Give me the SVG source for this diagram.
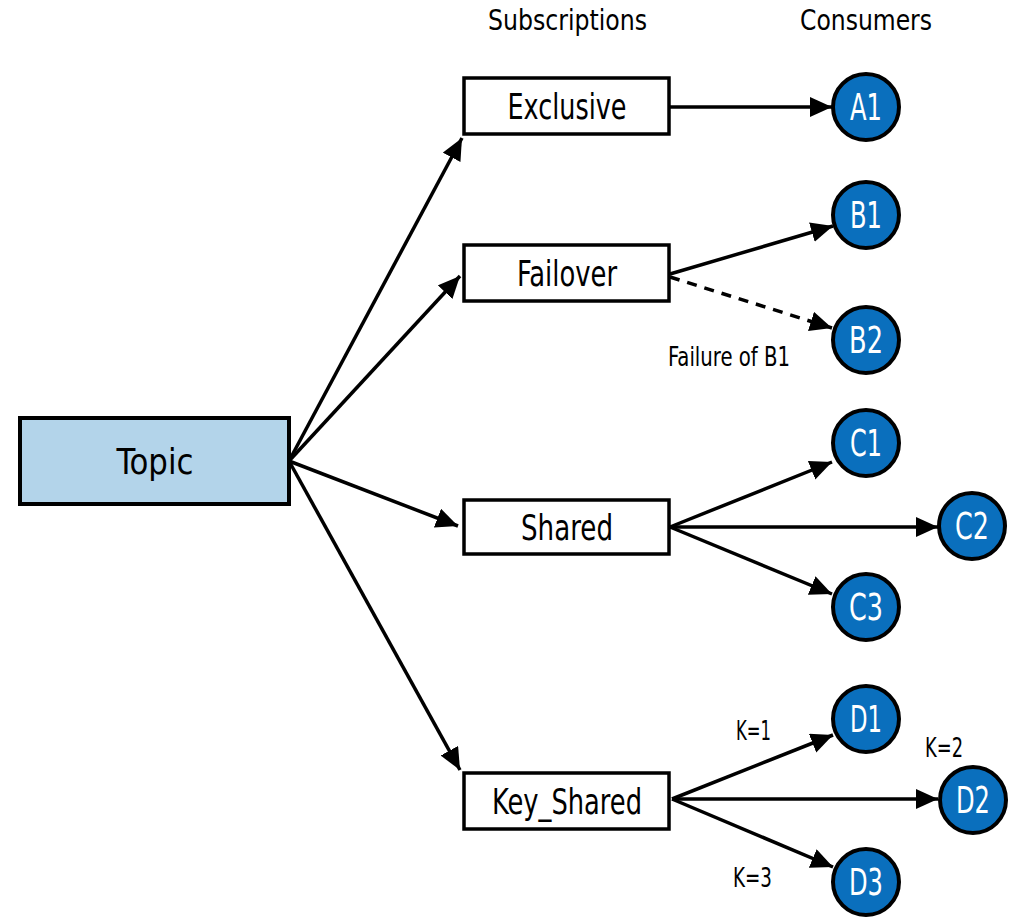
<svg xmlns="http://www.w3.org/2000/svg" width="1031" height="923" viewBox="0 0 1031 923">
<defs>
<marker id="ah" markerUnits="userSpaceOnUse" markerWidth="24" markerHeight="22" refX="22" refY="10" orient="auto" viewBox="0 0 24 22">
<path d="M0,0 L22,10 L0,20 z" fill="#000"/>
</marker>
<style>
text{font-family:"DejaVu Sans Condensed","DejaVu Sans",sans-serif;fill:#000}
.box{fill:#fff;stroke:#000;stroke-width:3.5}
.topic{fill:#b3d4ea;stroke:#000;stroke-width:4}
.btxt{font-size:35px;text-anchor:middle}
.circ{fill:#0a6fbd;stroke:#000;stroke-width:4}
.ctxt{font-size:37px;fill:#fff;text-anchor:middle}
.hdr{font-size:29px}
.lbl{font-size:27px}
.edge{stroke:#000;stroke-width:3.5;fill:none;marker-end:url(#ah)}
.dash{stroke-dasharray:10 8}
</style>
</defs>
<text class="hdr" x="488" y="30" textLength="159" lengthAdjust="spacingAndGlyphs">Subscriptions</text>
<text class="hdr" x="800" y="30" textLength="132" lengthAdjust="spacingAndGlyphs">Consumers</text>
<g id="connectors">
<line class="edge" x1="289" y1="461" x2="462" y2="138"/>
<line class="edge" x1="289" y1="461" x2="460" y2="276"/>
<line class="edge" x1="289" y1="461" x2="458" y2="526"/>
<line class="edge" x1="289" y1="461" x2="460" y2="770"/>
<line class="edge" x1="670" y1="107" x2="832" y2="107"/>
<line class="edge" x1="670" y1="274" x2="833" y2="226"/>
<line class="edge dash" x1="670" y1="277" x2="832" y2="328"/>
<line class="edge" x1="670" y1="527" x2="832" y2="462"/>
<line class="edge" x1="670" y1="527" x2="938" y2="527"/>
<line class="edge" x1="670" y1="527" x2="832" y2="594"/>
<line class="edge" x1="672" y1="799" x2="833" y2="735"/>
<line class="edge" x1="672" y1="799" x2="938" y2="799"/>
<line class="edge" x1="672" y1="799" x2="833" y2="867"/>
</g>
<text class="lbl" x="668" y="366" textLength="122" lengthAdjust="spacingAndGlyphs">Failure of B1</text>
<text class="lbl" x="736" y="740" textLength="35" lengthAdjust="spacingAndGlyphs">K=1</text>
<text class="lbl" x="925" y="757" textLength="38" lengthAdjust="spacingAndGlyphs">K=2</text>
<text class="lbl" x="733" y="887" textLength="39" lengthAdjust="spacingAndGlyphs">K=3</text>
<g id="topic"><rect class="topic" x="20" y="418" width="269" height="86"/><text class="btxt" x="155" y="474" textLength="77" lengthAdjust="spacingAndGlyphs">Topic</text></g>
<g id="exclusive"><rect class="box" x="464" y="78" width="205" height="56"/><text class="btxt" x="567" y="119" textLength="119" lengthAdjust="spacingAndGlyphs">Exclusive</text></g>
<g id="failover"><rect class="box" x="464" y="245" width="205" height="56"/><text class="btxt" x="567" y="286" textLength="100" lengthAdjust="spacingAndGlyphs">Failover</text></g>
<g id="shared"><rect class="box" x="464" y="500" width="205" height="54"/><text class="btxt" x="567" y="540" textLength="92" lengthAdjust="spacingAndGlyphs">Shared</text></g>
<g id="keyshared"><rect class="box" x="464" y="773" width="205" height="56"/><text class="btxt" x="567" y="814" textLength="150" lengthAdjust="spacingAndGlyphs">Key_Shared</text></g>
<g id="A1"><circle class="circ" cx="866" cy="107" r="33"/><text class="ctxt" x="866" y="120" textLength="32" lengthAdjust="spacingAndGlyphs">A1</text></g>
<g id="B1"><circle class="circ" cx="866" cy="215" r="33"/><text class="ctxt" x="866" y="228" textLength="32" lengthAdjust="spacingAndGlyphs">B1</text></g>
<g id="B2"><circle class="circ" cx="866" cy="340" r="33"/><text class="ctxt" x="866" y="353" textLength="34" lengthAdjust="spacingAndGlyphs">B2</text></g>
<g id="C1"><circle class="circ" cx="866" cy="443" r="33"/><text class="ctxt" x="866" y="456" textLength="32" lengthAdjust="spacingAndGlyphs">C1</text></g>
<g id="C2"><circle class="circ" cx="972" cy="526" r="33"/><text class="ctxt" x="972" y="539" textLength="34" lengthAdjust="spacingAndGlyphs">C2</text></g>
<g id="C3"><circle class="circ" cx="866" cy="607" r="33"/><text class="ctxt" x="866" y="620" textLength="34" lengthAdjust="spacingAndGlyphs">C3</text></g>
<g id="D1"><circle class="circ" cx="866" cy="719" r="33"/><text class="ctxt" x="866" y="732" textLength="32" lengthAdjust="spacingAndGlyphs">D1</text></g>
<g id="D2"><circle class="circ" cx="973" cy="800" r="33"/><text class="ctxt" x="973" y="813" textLength="34" lengthAdjust="spacingAndGlyphs">D2</text></g>
<g id="D3"><circle class="circ" cx="866" cy="882" r="33"/><text class="ctxt" x="866" y="895" textLength="34" lengthAdjust="spacingAndGlyphs">D3</text></g>
</svg>
